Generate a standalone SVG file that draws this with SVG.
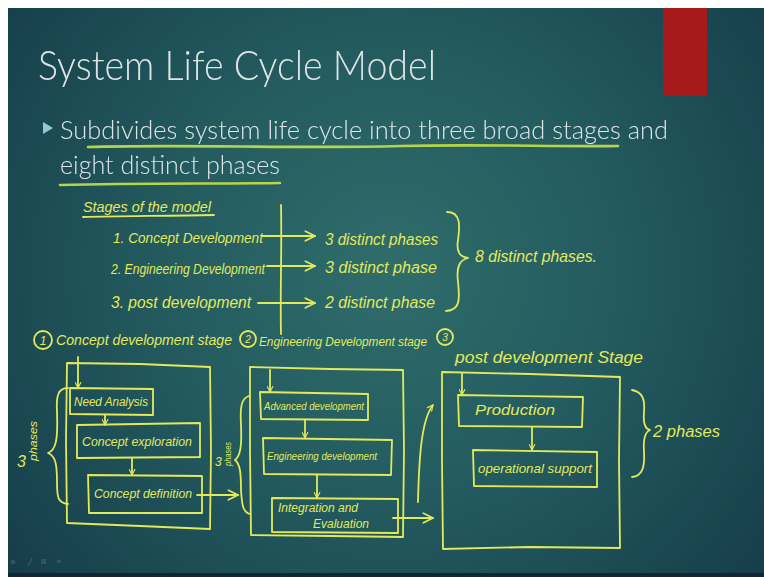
<svg xmlns="http://www.w3.org/2000/svg" width="764" height="577" viewBox="0 0 764 577">
  <defs>
    <radialGradient id="bg" gradientUnits="userSpaceOnUse" cx="390" cy="270" r="520">
      <stop offset="0" stop-color="#2f6d6b"/>
      <stop offset="0.45" stop-color="#235a5e"/>
      <stop offset="1" stop-color="#143947"/>
    </radialGradient>
    <marker id="chev" viewBox="0 0 10 10" refX="9" refY="5" markerWidth="7" markerHeight="7" orient="auto" markerUnits="userSpaceOnUse">
      <path d="M1,1 L9,5 L1,9" fill="none" stroke="#e2ea5c" stroke-width="1.6" stroke-linecap="round" stroke-linejoin="round"/>
    </marker>
    <marker id="chevBig" viewBox="0 0 10 10" refX="9" refY="5" markerWidth="12" markerHeight="12" orient="auto" markerUnits="userSpaceOnUse">
      <path d="M1,1 L9,5 L1,9" fill="none" stroke="#e2ea5c" stroke-width="1.4" stroke-linecap="round" stroke-linejoin="round"/>
    </marker>
    <filter id="soft" x="-5%" y="-20%" width="110%" height="140%">
      <feGaussianBlur stdDeviation="0.4"/>
    </filter>
  </defs>
  <style>
    .slide-title { font-family: "Lato", "Open Sans", "Liberation Sans", sans-serif; font-weight: 300; fill: #dde5e6; }
    .slide-body { font-family: "Lato", "Open Sans", "Liberation Sans", sans-serif; font-weight: 300; fill: #dde5e6; }
    .hl { fill: none; stroke: #b7d548; stroke-width: 2.6; stroke-linecap: round; }
    .ink { fill: none; stroke: #e2ea5c; stroke-width: 1.8; stroke-linecap: round; stroke-linejoin: round; }
    .hw { font-family: "Liberation Sans", "DejaVu Sans", sans-serif; font-style: italic; fill: #e2ea5c; }
    .arrow { fill: none; stroke: #e2ea5c; stroke-width: 1.8; stroke-linecap: round; marker-end: url(#chev); }
    .bigarrow { fill: none; stroke: #e2ea5c; stroke-width: 1.8; stroke-linecap: round; marker-end: url(#chevBig); }
  </style>

  <!-- page margin and slide background -->
  <rect width="764" height="577" fill="#ffffff"/>
  <rect x="8" y="8" width="756" height="566" fill="url(#bg)"/>
  <rect x="8" y="573" width="756" height="4" fill="#0d2833"/>
  <rect x="663" y="8" width="44" height="88" fill="#a71a1b"/>

  <!-- faint playback controls -->
  <g fill="#3a6670" opacity="0.6">
    <circle cx="13" cy="562" r="2.5"/>
    <path d="M28,566 L32,558" stroke="#3a6670" stroke-width="1.5"/>
    <rect x="41" y="559" width="5" height="5"/>
    <rect x="57" y="560" width="4" height="3"/>
  </g>

  <!-- printed slide text -->
  <g id="title" filter="url(#soft)">
    <text class="slide-title" x="38" y="80" font-size="42" textLength="398" lengthAdjust="spacingAndGlyphs">System Life Cycle Model</text>
  </g>
  <g id="bullet" filter="url(#soft)">
    <polygon points="43,122 53,128 43,134" fill="#8fc9d4"/>
    <text class="slide-body" x="60" y="139" font-size="25" textLength="608" lengthAdjust="spacingAndGlyphs">Subdivides system life cycle into three broad stages and</text>
    <text class="slide-body" x="60" y="174" font-size="25" textLength="220" lengthAdjust="spacingAndGlyphs">eight distinct phases</text>
  </g>
  <g id="highlights">
    <path class="hl" d="M88,147 C180,144 300,149 400,146 C480,144 560,147 618,146"/>
    <path class="hl" d="M60,185 C140,183 220,184 280,183"/>
  </g>

  <!-- stage summary -->
  <g id="summary">
    <text class="hw" x="83" y="212" font-size="14" textLength="128" lengthAdjust="spacingAndGlyphs">Stages of the model</text>
    <path class="ink" d="M83,217 C120,216 170,216 214,215"/>
    <text class="hw" x="113" y="243" font-size="15" textLength="150" lengthAdjust="spacingAndGlyphs">1. Concept Development</text>
    <text class="hw" x="111" y="274" font-size="15" textLength="154" lengthAdjust="spacingAndGlyphs">2. Engineering Development</text>
    <text class="hw" x="111" y="308" font-size="16" textLength="140" lengthAdjust="spacingAndGlyphs">3. post development</text>
    <path class="ink" d="M281,205 C282,250 280,290 281,334"/>
    <text class="hw" x="325" y="245" font-size="16" textLength="113" lengthAdjust="spacingAndGlyphs">3 distinct phases</text>
    <text class="hw" x="325" y="273" font-size="16" textLength="112" lengthAdjust="spacingAndGlyphs">3 distinct phase</text>
    <text class="hw" x="325" y="308" font-size="16" textLength="110" lengthAdjust="spacingAndGlyphs">2 distinct phase</text>
    <path class="ink" d="M447,212 C461,212 460,226 458,240 C456,252 460,257 468,258 C460,260 456,266 458,282 C460,300 460,310 446,311"/>
    <text class="hw" x="475" y="262" font-size="17" textLength="122" lengthAdjust="spacingAndGlyphs">8 distinct phases.</text>
  </g>

  <!-- stage 1 -->
  <g id="stage1">
    <circle class="ink" cx="43" cy="340" r="9"/>
    <text class="hw" x="43" y="345" font-size="12" text-anchor="middle">1</text>
    <text class="hw" x="56" y="345" font-size="14" textLength="176" lengthAdjust="spacingAndGlyphs">Concept development stage</text>
    <path class="ink" d="M67,363 L140,364 L210,367 L211,450 L210,529 L140,526 L67,523 L66,440 Z"/>
    <path class="ink" d="M68,388 C58,388 56,396 57,412 C58,440 56,450 48,453 C56,456 57,466 57,482 C57,498 58,503 68,504"/>
    <text class="hw" x="17" y="467" font-size="16">3</text>
    <text class="hw" x="0" y="0" font-size="11" textLength="40" lengthAdjust="spacingAndGlyphs" transform="translate(37,461) rotate(-90)">phases</text>
  </g>
  <g id="need-analysis">
    <path class="ink" d="M70,388 L153,389 L153,415 L70,414 Z"/>
    <text class="hw" x="74" y="406" font-size="12" textLength="74" lengthAdjust="spacingAndGlyphs">Need Analysis</text>
  </g>
  <g id="concept-exploration">
    <path class="ink" d="M77,425 L200,423 L200,457 L77,458 Z"/>
    <text class="hw" x="82" y="446" font-size="13" textLength="110" lengthAdjust="spacingAndGlyphs">Concept exploration</text>
  </g>
  <g id="concept-definition">
    <path class="ink" d="M88,475 L202,476 L202,513 L89,513 Z"/>
    <text class="hw" x="94" y="498" font-size="13" textLength="98" lengthAdjust="spacingAndGlyphs">Concept definition</text>
  </g>

  <!-- stage 2 -->
  <g id="stage2">
    <circle class="ink" cx="248" cy="339" r="8"/>
    <text class="hw" x="248" y="343" font-size="10" text-anchor="middle">2</text>
    <text class="hw" x="259" y="346" font-size="12" textLength="168" lengthAdjust="spacingAndGlyphs">Engineering Development stage</text>
    <path class="ink" d="M250,367 L330,369 L403,370 L404,450 L403,537 L330,536 L251,535 L250,450 Z"/>
    <path class="ink" d="M249,396 C241,398 240,408 241,425 C242,448 240,456 235,460 C240,464 241,472 241,490 C242,506 243,512 250,514"/>
    <text class="hw" x="215" y="466" font-size="12">3</text>
    <text class="hw" x="0" y="0" font-size="9" textLength="24" lengthAdjust="spacingAndGlyphs" transform="translate(231,466) rotate(-90)">phases</text>
  </g>
  <g id="advanced-development">
    <path class="ink" d="M260,392 L368,394 L368,420 L261,419 Z"/>
    <text class="hw" x="264" y="410" font-size="11" textLength="100" lengthAdjust="spacingAndGlyphs">Advanced development</text>
  </g>
  <g id="engineering-development">
    <path class="ink" d="M263,438 L392,440 L391,475 L264,474 Z"/>
    <text class="hw" x="267" y="460" font-size="11" textLength="110" lengthAdjust="spacingAndGlyphs">Engineering development</text>
  </g>
  <g id="integration-evaluation">
    <path class="ink" d="M272,498 L398,499 L398,533 L272,532 Z"/>
    <text class="hw" x="278" y="512" font-size="12" textLength="80" lengthAdjust="spacingAndGlyphs">Integration and</text>
    <text class="hw" x="313" y="528" font-size="12" textLength="56" lengthAdjust="spacingAndGlyphs">Evaluation</text>
  </g>

  <!-- stage 3 -->
  <g id="stage3">
    <circle class="ink" cx="445" cy="337" r="8"/>
    <text class="hw" x="445" y="341" font-size="10" text-anchor="middle">3</text>
    <text class="hw" x="455" y="363" font-size="16" textLength="188" lengthAdjust="spacingAndGlyphs">post development Stage</text>
    <path class="ink" d="M442,372 L530,374 L620,377 L619,460 L620,548 L530,547 L443,549 L442,460 Z"/>
    <path class="ink" d="M632,390 C643,392 645,400 644,412 C643,424 645,429 650,430 C645,432 643,438 644,452 C645,468 642,476 632,477"/>
    <text class="hw" x="653" y="437" font-size="16" textLength="67" lengthAdjust="spacingAndGlyphs">2 phases</text>
  </g>
  <g id="production">
    <path class="ink" d="M458,395 L583,397 L582,427 L459,426 Z"/>
    <text class="hw" x="475" y="415" font-size="14" textLength="80" lengthAdjust="spacingAndGlyphs">Production</text>
  </g>
  <g id="operational-support">
    <path class="ink" d="M473,450 L597,452 L597,487 L474,486 Z"/>
    <text class="hw" x="478" y="473" font-size="13" textLength="114" lengthAdjust="spacingAndGlyphs">operational support</text>
  </g>

  <!-- connectors -->
  <g id="connectors">
    <path class="bigarrow" d="M262,236 L315,236"/>
    <path class="bigarrow" d="M267,266 L315,266"/>
    <path class="bigarrow" d="M258,303 L315,303"/>
    <path class="arrow" d="M78,357 L78,388"/>
    <path class="arrow" d="M105,415 L105,425"/>
    <path class="arrow" d="M132,458 L132,475"/>
    <path class="bigarrow" d="M197,495 L238,495"/>
    <path class="arrow" d="M270,370 L270,392"/>
    <path class="arrow" d="M305,420 L305,438"/>
    <path class="arrow" d="M317,475 L317,498"/>
    <path class="bigarrow" d="M393,518 L433,518"/>
    <path class="arrow" d="M418,502 C419,460 421,420 433,405"/>
    <path class="arrow" d="M462,373 L462,395"/>
    <path class="arrow" d="M532,427 L532,450"/>
  </g>
</svg>
